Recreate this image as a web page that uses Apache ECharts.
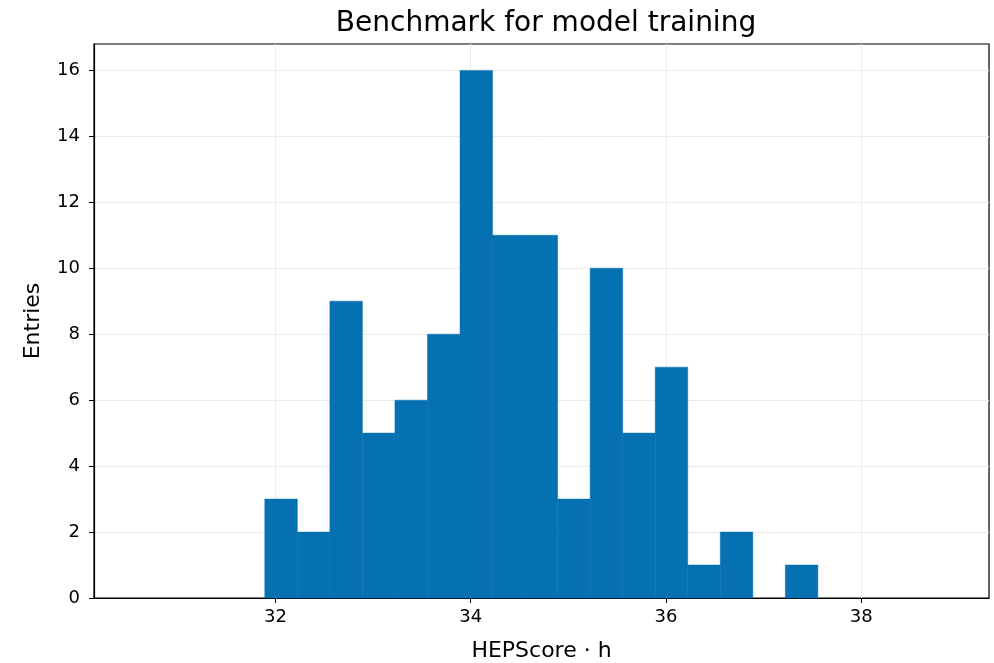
<!DOCTYPE html>
<html>
<head>
<meta charset="utf-8">
<script src="https://cdn.jsdelivr.net/npm/echarts@6/dist/echarts.min.js"></script>
<style>
  html, body { margin: 0; padding: 0; background: #fff; }
  #chart { width: 994px; height: 663px; }
</style>
</head>
<body>
<div id="chart"></div>
<script>
// histogram bins (bin width 1/3)
const binStart = 31.89;
const binWidth = 1 / 3;
const counts = [3, 2, 9, 5, 6, 8, 16, 11, 11, 3, 10, 5, 7, 1, 2, 0, 1];
const xTicks = [32, 34, 36, 38];
const yTicks = [0, 2, 4, 6, 8, 10, 12, 14, 16];

const bins = counts.map((c, i) => [binStart + i * binWidth, binStart + (i + 1) * binWidth, c]);

const chart = echarts.init(document.getElementById('chart'));
const font = 'DejaVu Sans';
const option = {
  animation: false,
  title: {
    text: 'Benchmark for model training',
    left: 541,
    textAlign: 'center',
    top: 5,
    textStyle: { fontFamily: font, fontSize: 28, fontWeight: 'normal', color: '#000' },
  },
  grid: {
    left: 94,
    right: 5,
    top: 44,
    bottom: 65,
    outerBoundsMode: 'none',
    containLabel: false,
    show: true,
    borderColor: '#000',
    borderWidth: 1.2,
  },
  xAxis: {
    type: 'value',
    min: 30.14,
    max: 39.31,
    name: 'HEPScore · h',
    nameLocation: 'middle',
    nameGap: 42,
    nameTextStyle: { fontFamily: font, fontSize: 22, color: '#000' },
    axisLine: { show: true, lineStyle: { color: '#000', width: 1.2 } },
    axisTick: { show: true, length: 5, customValues: xTicks, lineStyle: { color: '#000' } },
    axisLabel: { customValues: xTicks, fontFamily: font, fontSize: 18, color: '#000', margin: 10 },
    splitLine: { show: true, lineStyle: { color: '#ebebeb', width: 1 } },
  },
  yAxis: {
    type: 'value',
    min: 0,
    max: 16.8,
    name: 'Entries',
    nameLocation: 'middle',
    nameGap: 50,
    nameTextStyle: { fontFamily: font, fontSize: 22, color: '#000' },
    axisLine: { show: true, lineStyle: { color: '#000', width: 1.2 } },
    axisTick: { show: true, length: 5, customValues: yTicks, lineStyle: { color: '#000' } },
    axisLabel: { customValues: yTicks, fontFamily: font, fontSize: 18, color: '#000', margin: 14 },
    splitLine: { show: true, lineStyle: { color: '#ebebeb', width: 1 } },
  },
  series: [
    {
      type: 'custom',
      data: bins,
      encode: { x: [0, 1], y: 2 },
      renderItem(params, api) {
        if (!api.value(2)) return null;
        const lo = api.coord([api.value(0), 0]);
        const hi = api.coord([api.value(1), api.value(2)]);
        return {
          type: 'rect',
          shape: { x: lo[0], y: hi[1], width: hi[0] - lo[0], height: lo[1] - hi[1] },
          style: { fill: '#0671b0', stroke: '#0671b0', lineWidth: 0.5 },
        };
      },
    },
  ],
};
chart.setOption(option);
</script>
</body>
</html>
